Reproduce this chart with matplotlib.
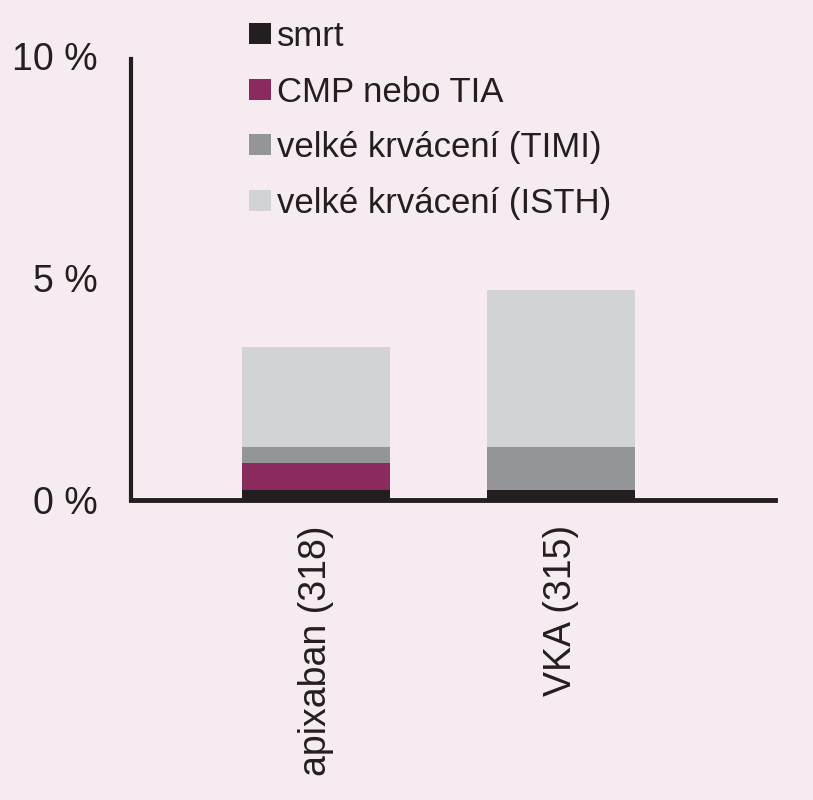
import matplotlib
matplotlib.use("Agg")
import matplotlib.pyplot as plt
from matplotlib.patches import Patch
import numpy as np

categories = ["apixaban (318)", "VKA (315)"]
series_names = ["smrt", "CMP nebo TIA", "velké krvácení (TIMI)", "velké krvácení (ISTH)"]
smrt = [0.22, 0.22]
cmp_tia = [0.61, 0.0]
timi = [0.36, 0.97]
isth = [2.26, 3.54]
yticks = [0, 5, 10]
ytick_labels = ["0 %", "5 %", "10 %"]

colors = ["#231F20", "#8B2A5D", "#939598", "#D1D3D4"]
bg = "#F6EBF0"
dark = "#231F20"

plt.rcParams['font.family'] = ['Liberation Sans Narrow', 'Liberation Sans', 'DejaVu Sans']

fig = plt.figure(figsize=(8.13, 8.0), dpi=100, facecolor=bg)
ax = fig.add_axes([131/813, 0.375, 644/813, 0.555])
ax.set_facecolor(bg)

x = np.arange(len(categories))
bottom = np.zeros(len(categories))
for vals, col in zip([smrt, cmp_tia, timi, isth], colors):
    ax.bar(x, vals, bottom=bottom, width=0.604, color=col, zorder=3)
    bottom += np.array(vals)

ax.set_xlim(-0.755, 1.873)
ax.set_ylim(0, 10)
for s in ["top", "right"]:
    ax.spines[s].set_visible(False)
ax.spines["left"].set_linewidth(3.0)
ax.spines["bottom"].set_linewidth(3.5)
ax.spines["left"].set_color(dark)
ax.spines["bottom"].set_color(dark)
ax.spines["left"].set_bounds(0, 9.93)

ax.set_yticks(yticks)
ax.set_yticklabels(ytick_labels, fontsize=27, color=dark)
ax.set_xticks(x)
ax.set_xticklabels(categories, rotation=90, fontsize=27, color=dark)
ax.tick_params(axis="both", length=0)
ax.tick_params(axis="y", pad=24)
ax.tick_params(axis="x", pad=18)

handles = [Patch(facecolor=c, edgecolor="none") for c in colors]
fig.legend(handles, series_names, loc="upper left",
           bbox_to_anchor=(249/813, 1 - 20/800), frameon=False,
           fontsize=25, handlelength=0.63, handleheight=0.55,
           handletextpad=0.17, labelspacing=0.65, labelcolor=dark,
           borderaxespad=0, borderpad=0)

fig.savefig("out.png", dpi=100, facecolor=bg)
